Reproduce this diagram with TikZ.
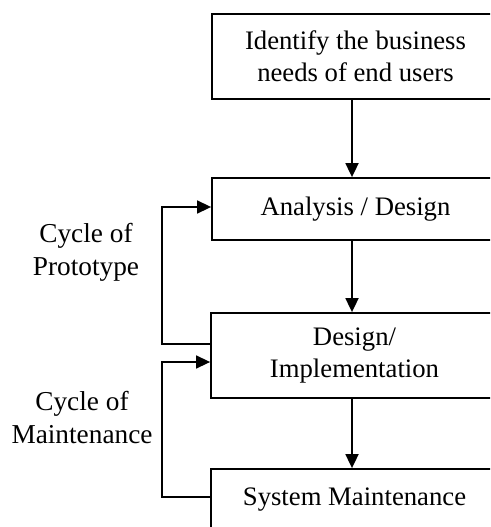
\documentclass[tikz,border=0pt]{standalone}
\usepackage{fontspec}
\setmainfont{Liberation Serif}
\usetikzlibrary{arrows.meta}
\begin{document}
\begin{tikzpicture}[x=1pt,y=-1pt,
  boxst/.style={draw,line width=1.8pt,minimum width=287pt,align=center,inner sep=0pt,font=\fontsize{26.7}{32}\selectfont},
  lab/.style={align=center,inner sep=0pt,font=\fontsize{27.3}{33}\selectfont},
  flow/.style={line width=1.8pt,-{Triangle[length=14pt,width=13pt]}},
  loop/.style={line width=1.5pt,-{Triangle[length=14pt,width=13pt]}}]
\useasboundingbox (0,0) rectangle (490,527);
\clip (0,0) rectangle (490,527);
\node[boxst,minimum height=85pt] (n1) at (355.5,56.5) {Identify the business\\needs of end users};
\node[boxst,minimum height=62pt] (n2) at (355.5,209) {Analysis / Design};
\node[boxst,minimum height=85pt] (n3) at (354.5,355.5) {Design/\\Implementation};
\node[boxst,minimum height=62pt] (n4) at (354.5,500) {System Maintenance};
\node[lab] (l1) at (86,252) {Cycle of\\Prototype};
\node[lab] (l2) at (82,418) {Cycle of\\Maintenance};
\draw[flow] (n1.south -| 352,0) -- (n2.north -| 352,0);
\draw[flow] (n2.south -| 352,0) -- (n3.north -| 352,0);
\draw[flow] (n3.south -| 352,0) -- (n4.north -| 352,0);
\coordinate (p1) at (162,344);
\coordinate (p2) at (162,207);
\coordinate (m1) at (162,497);
\coordinate (m2) at (162,362);
\draw[loop] (n3.west |- p1) -- (p1) -- (p2) -- (n2.west |- p2);
\draw[loop] (n4.west |- m1) -- (m1) -- (m2) -- (n3.west |- m2);
\end{tikzpicture}
\end{document}
